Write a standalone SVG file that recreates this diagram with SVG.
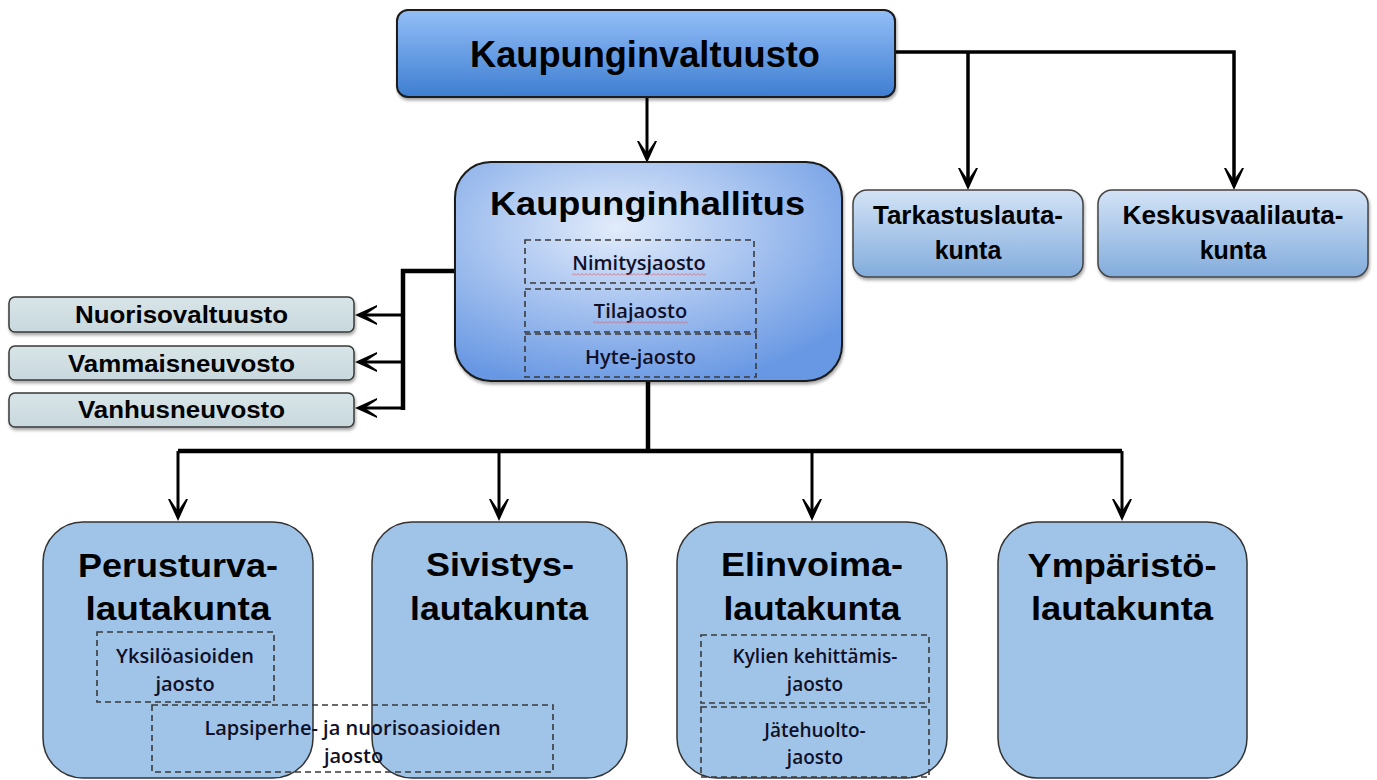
<svg xmlns="http://www.w3.org/2000/svg" width="1377" height="780" viewBox="0 0 1377 780">
<style>
.tb{font-family:"Liberation Sans",Arial,sans-serif;font-weight:bold;fill:#000;text-anchor:middle}
.ts{font-family:"Open Sans","Noto Sans",sans-serif;font-weight:600;fill:#101028;text-anchor:middle}
.dash{fill:none;stroke:#3a3a3a;stroke-width:1.6;stroke-dasharray:6 4}
.con{fill:none;stroke:#000;stroke-width:3}
.conm{fill:none;stroke:#000;stroke-width:3.5}
.conw{fill:none;stroke:#000;stroke-width:4.5}
.bot{fill:#9fc4e8;stroke:#333;stroke-width:1.5}
.side{fill:url(#gSide);stroke:#3a3a3a;stroke-width:1.5}
.right{fill:url(#gRight);stroke:#444;stroke-width:1.5}
</style>
<defs>
<linearGradient id="gKV" x1="0" y1="0" x2="0" y2="1"><stop offset="0" stop-color="#93bef7"/><stop offset="1" stop-color="#3e7ed1"/></linearGradient>
<radialGradient id="gKH" cx="0.42" cy="0.3" r="0.75"><stop offset="0" stop-color="#e2ecfb"/><stop offset="1" stop-color="#6797e3"/></radialGradient>
<linearGradient id="gRight" x1="0" y1="0" x2="0" y2="1"><stop offset="0" stop-color="#d3e3f6"/><stop offset="1" stop-color="#82acdc"/></linearGradient>
<linearGradient id="gSide" x1="0" y1="0" x2="0" y2="1"><stop offset="0" stop-color="#d8e5e8"/><stop offset="1" stop-color="#c8d8dd"/></linearGradient>
<filter id="sh" x="-5%" y="-10%" width="115%" height="140%"><feDropShadow dx="1" dy="2.5" stdDeviation="1.5" flood-color="#000" flood-opacity="0.35"/></filter>
<pattern id="sq" patternUnits="userSpaceOnUse" width="4" height="3"><path d="M0,2.5 L2,0.5 L4,2.5" fill="none" stroke="#e0606a" stroke-width="0.8"/></pattern>
<marker id="ah" markerUnits="userSpaceOnUse" viewBox="-24 -12 26 24" refX="-8" refY="0" markerWidth="26" markerHeight="24" orient="auto" overflow="visible"><path d="M0,0 L-22,-10 L-22,-8 L-10,0 L-22,8 L-22,10 Z" fill="#000"/></marker>
</defs>
<rect width="1377" height="780" fill="#fff"/>

<g id="connectors">
<path class="con" d="M647,97 V155" marker-end="url(#ah)"/>
<path class="conm" d="M895,52 H1234 V182" marker-end="url(#ah)"/>
<path class="conm" d="M968,52 V182" marker-end="url(#ah)"/>
<path class="conw" d="M455,271 H403 V410"/>
<path class="con" d="M403,315 H363" marker-end="url(#ah)"/>
<path class="con" d="M403,362 H363" marker-end="url(#ah)"/>
<path class="con" d="M403,408 H363" marker-end="url(#ah)"/>
<path class="conw" d="M648,381 V451"/>
<path class="conw" d="M178,451 H1122"/>
<path class="con" d="M178,451 V513" marker-end="url(#ah)"/>
<path class="con" d="M499,451 V513" marker-end="url(#ah)"/>
<path class="con" d="M812,451 V513" marker-end="url(#ah)"/>
<path class="con" d="M1122,451 V513" marker-end="url(#ah)"/>
</g>

<g id="kaupunginvaltuusto">
<rect x="397" y="10" width="498" height="87" rx="11" fill="url(#gKV)" stroke="#1a1a1a" stroke-width="2" filter="url(#sh)"/>
<text class="tb" x="645" y="67" font-size="36" textLength="350" lengthAdjust="spacingAndGlyphs">Kaupunginvaltuusto</text>
</g>

<g id="kaupunginhallitus">
<rect x="455" y="162" width="387" height="219" rx="36" fill="url(#gKH)" stroke="#1a1a1a" stroke-width="2" filter="url(#sh)"/>
<text class="tb" x="647.5" y="215" font-size="34" textLength="315" lengthAdjust="spacingAndGlyphs">Kaupunginhallitus</text>
<rect class="dash" x="525" y="240" width="229" height="43"/>
<text class="ts" x="639" y="270" font-size="20">Nimitysjaosto</text>
<rect x="572" y="273" width="134" height="3" fill="url(#sq)"/>
<rect class="dash" x="525" y="289" width="231" height="43"/>
<text class="ts" x="640.5" y="318" font-size="20">Tilajaosto</text>
<rect x="593" y="321" width="95" height="3" fill="url(#sq)"/>
<rect class="dash" x="525" y="334" width="231" height="43"/>
<text class="ts" x="640.5" y="364" font-size="20">Hyte-jaosto</text>
</g>

<g id="tarkastuslautakunta">
<rect class="right" x="853" y="190" width="230" height="87" rx="14" filter="url(#sh)"/>
<text class="tb" x="968" y="224" font-size="25" textLength="190" lengthAdjust="spacingAndGlyphs">Tarkastuslauta-</text>
<text class="tb" x="968" y="259" font-size="25">kunta</text>
</g>

<g id="keskusvaalilautakunta">
<rect class="right" x="1098" y="190" width="270" height="87" rx="14" filter="url(#sh)"/>
<text class="tb" x="1233" y="224" font-size="25" textLength="221" lengthAdjust="spacingAndGlyphs">Keskusvaalilauta-</text>
<text class="tb" x="1233" y="259" font-size="25">kunta</text>
</g>

<g id="nuorisovaltuusto">
<rect class="side" x="9" y="297" width="345" height="35" rx="6" filter="url(#sh)"/>
<text class="tb" x="181.5" y="323" font-size="23" textLength="213" lengthAdjust="spacingAndGlyphs">Nuorisovaltuusto</text>
</g>
<g id="vammaisneuvosto">
<rect class="side" x="9" y="346" width="345" height="34" rx="6" filter="url(#sh)"/>
<text class="tb" x="181.5" y="372" font-size="23" textLength="227" lengthAdjust="spacingAndGlyphs">Vammaisneuvosto</text>
</g>
<g id="vanhusneuvosto">
<rect class="side" x="9" y="393" width="345" height="34" rx="6" filter="url(#sh)"/>
<text class="tb" x="181.5" y="418" font-size="23" textLength="207" lengthAdjust="spacingAndGlyphs">Vanhusneuvosto</text>
</g>

<g id="perusturvalautakunta">
<rect class="bot" x="43" y="522" width="270" height="256" rx="40"/>
<text class="tb" x="178" y="577" font-size="33" textLength="200" lengthAdjust="spacingAndGlyphs">Perusturva-</text>
<text class="tb" x="178" y="620" font-size="33" textLength="185" lengthAdjust="spacingAndGlyphs">lautakunta</text>
</g>
<g id="sivistyslautakunta">
<rect class="bot" x="372" y="522" width="255" height="256" rx="40"/>
<text class="tb" x="500" y="576" font-size="33" textLength="148" lengthAdjust="spacingAndGlyphs">Sivistys-</text>
<text class="tb" x="499" y="620" font-size="33" textLength="178" lengthAdjust="spacingAndGlyphs">lautakunta</text>
</g>
<g id="elinvoimalautakunta">
<rect class="bot" x="677" y="522" width="270" height="256" rx="40"/>
<text class="tb" x="812" y="576" font-size="33" textLength="182" lengthAdjust="spacingAndGlyphs">Elinvoima-</text>
<text class="tb" x="812" y="620" font-size="33" textLength="177" lengthAdjust="spacingAndGlyphs">lautakunta</text>
<rect class="dash" x="701" y="635" width="228" height="68"/>
<text class="ts" x="815" y="663" font-size="19">Kylien kehittämis-</text>
<text class="ts" x="815" y="691" font-size="19">jaosto</text>
<rect class="dash" x="701" y="707" width="228" height="70"/>
<text class="ts" x="815" y="737" font-size="19">Jätehuolto-</text>
<text class="ts" x="815" y="764" font-size="19">jaosto</text>
</g>
<g id="ymparistolautakunta">
<rect class="bot" x="998" y="522" width="249" height="256" rx="40"/>
<text class="tb" x="1122" y="577" font-size="33" textLength="189" lengthAdjust="spacingAndGlyphs">Ympäristö-</text>
<text class="tb" x="1122" y="620" font-size="33" textLength="182" lengthAdjust="spacingAndGlyphs">lautakunta</text>
</g>

<g id="yksiloasioiden-jaosto">
<rect class="dash" x="97" y="632" width="177" height="70"/>
<text class="ts" x="185" y="663" font-size="20">Yksilöasioiden</text>
<text class="ts" x="185" y="691" font-size="20">jaosto</text>
</g>
<g id="lapsiperhe-jaosto">
<rect class="dash" x="152" y="705" width="401" height="67"/>
<text class="ts" x="352.5" y="735" font-size="20">Lapsiperhe- ja nuorisoasioiden</text>
<text class="ts" x="353.5" y="763" font-size="20">jaosto</text>
</g>
</svg>
